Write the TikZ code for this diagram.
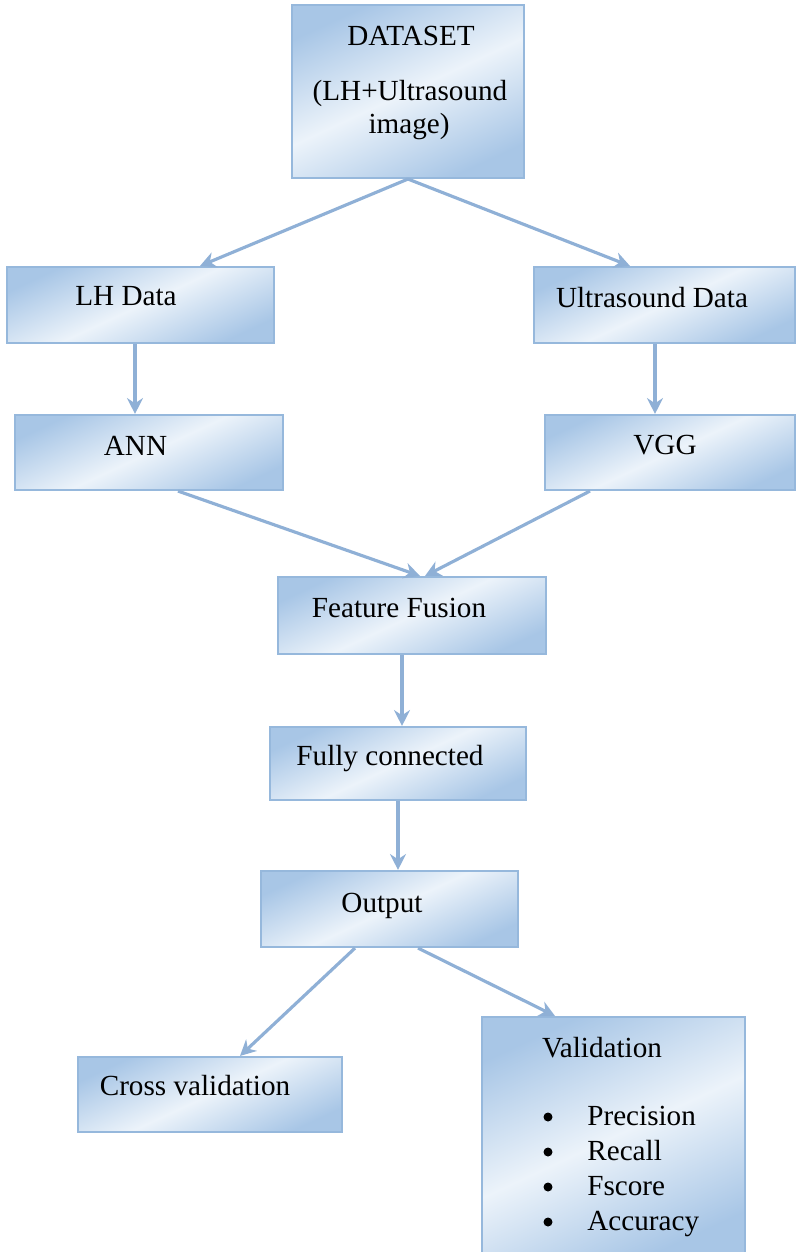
\documentclass[tikz,border=0pt]{standalone}
\usepackage{fontspec}
\setmainfont{Liberation Serif}
\usetikzlibrary{arrows.meta}
\definecolor{boxdark}{RGB}{168,198,230}
\definecolor{boxlight}{RGB}{236,243,250}
\definecolor{boxline}{RGB}{150,184,220}
\definecolor{arrowblue}{RGB}{143,176,214}

\begin{document}
\begin{tikzpicture}[x=0.02cm,y=-0.02cm,
  flowbox/.style={draw=boxline,line width=1.2pt,top color=boxdark,bottom color=boxdark,middle color=boxlight,shading angle=25,inner sep=0pt},
  boxtext/.style={font=\rmfamily\fontsize{16.6}{18.7}\selectfont,inner sep=0pt,align=center,anchor=base},
  flowarrow/.style={draw=arrowblue,line width=1.8pt,-{Stealth[length=9pt,width=9pt]}}]
\useasboundingbox (0,0) rectangle (805,1252);
% boxes
\node[flowbox,minimum width=4.64cm,minimum height=3.46cm] (data) at (408,91.5) {};
\node[flowbox,minimum width=5.34cm,minimum height=1.52cm] (lh) at (140.5,305) {};
\node[flowbox,minimum width=5.22cm,minimum height=1.52cm] (us) at (664.5,305) {};
\node[flowbox,minimum width=5.36cm,minimum height=1.5cm] (ann) at (149,452.5) {};
\node[flowbox,minimum width=5.0cm,minimum height=1.5cm] (vgg) at (670,452.5) {};
\node[flowbox,minimum width=5.36cm,minimum height=1.54cm] (fusion) at (412,615.5) {};
\node[flowbox,minimum width=5.12cm,minimum height=1.46cm] (fully) at (398,763.5) {};
\node[flowbox,minimum width=5.14cm,minimum height=1.52cm] (out) at (389.5,909) {};
\node[flowbox,minimum width=5.28cm,minimum height=1.5cm] (cross) at (210,1094.5) {};
\node[flowbox,minimum width=5.26cm,minimum height=4.78cm] (valid) at (613.5,1136.5) {};
% texts
\node[boxtext] (datatext) at (411,45) {DATASET};
\node[boxtext] (datasub) at (410,100) {(LH+Ultrasound};
\node[boxtext] (dataimg) at (409,133) {image)};
\node[boxtext] (lhtext) at (126,305) {LH Data};
\node[boxtext] (ustext) at (652,307) {Ultrasound Data};
\node[boxtext] (anntext) at (135.5,455) {ANN};
\node[boxtext] (vggtext) at (665,454) {VGG};
\node[boxtext] (fusiontext) at (399,617) {Feature Fusion};
\node[boxtext] (fullytext) at (390,765) {Fully connected};
\node[boxtext] (outtext) at (382,912) {Output};
\node[boxtext] (crosstext) at (195,1095) {Cross validation};
\node[boxtext] (validtext) at (602,1057) {Validation};
\foreach \metric [count=\i] in {Precision,Recall,Fscore,Accuracy}
{
\fill (548,{1082+35*\i}) circle (0.09cm);
\node[boxtext,anchor=base west] (metric\i) at (587,{1090+35*\i}) {\metric};
}
% connectors
\draw[flowarrow] (data.south) -- ([xshift=1.19cm]lh.north);
\draw[flowarrow] (data.south) -- ([xshift=-0.69cm]us.north);
\draw[flowarrow] ([xshift=-0.11cm]lh.south) -- ([xshift=-0.11cm]lh.south |- ann.north);
\draw[flowarrow] ([xshift=-0.19cm]us.south) -- ([xshift=-0.19cm]us.south |- vgg.north);
\draw[flowarrow] ([xshift=0.58cm]ann.south) -- ([xshift=0.16cm]fusion.north);
\draw[flowarrow] ([xshift=-1.6cm]vgg.south) -- ([xshift=0.26cm]fusion.north);
\draw[flowarrow] ([xshift=-0.2cm]fusion.south) -- ([xshift=-0.2cm]fusion.south |- fully.north);
\draw[flowarrow] (fully.south) -- (fully.south |- out.north);
\draw[flowarrow] ([xshift=-0.69cm]out.south) -- ([xshift=0.6cm]cross.north);
\draw[flowarrow] ([xshift=0.57cm]out.south) -- ([xshift=-1.17cm]valid.north);
\end{tikzpicture}
\end{document}
